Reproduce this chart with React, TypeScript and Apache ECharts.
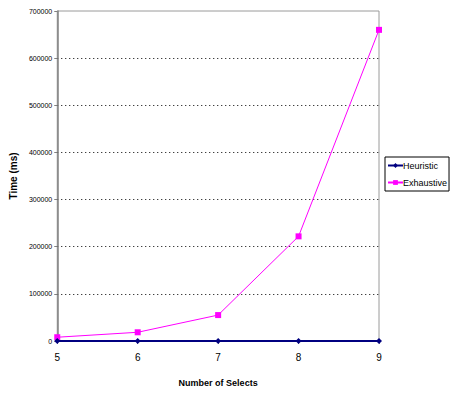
import React, { useEffect, useRef } from "react";
import * as echarts from "echarts";

const selects = [5, 6, 7, 8, 9];
const heuristicMs = [15, 20, 30, 40, 50];
const exhaustiveMs = [8000, 18500, 55000, 222000, 660000];
const yTicks = [0, 100000, 200000, 300000, 400000, 500000, 600000, 700000];

export default function App() {
  const ref = useRef<HTMLDivElement>(null);

  useEffect(() => {
    if (!ref.current) return;
    const chart = echarts.init(ref.current, undefined, { renderer: "svg" });
    chart.setOption({
      animation: false,
      backgroundColor: "#ffffff",
      textStyle: { fontFamily: "Liberation Sans, Arial, sans-serif" },
      grid: {
        left: 57,
        right: 73,
        top: 11,
        bottom: 52,
        show: true,
        borderColor: "#9a9a9a",
        borderWidth: 1,
      },
      legend: {
        orient: "vertical",
        left: 385,
        top: 157,
        padding: [4, 2, 4, 2],
        itemGap: 8,
        itemWidth: 15,
        itemHeight: 6,
        borderColor: "#000000",
        borderWidth: 1,
        borderRadius: 0,
        textStyle: {
          fontSize: 9,
          color: "#000",
          padding: [0, 0, 0, -5],
        },
        data: ["Heuristic", "Exhaustive"],
      },
      xAxis: {
        type: "value",
        min: 5,
        max: 9,
        interval: 1,
        name: "Number of Selects",
        nameLocation: "middle",
        nameGap: 37,
        nameTextStyle: { fontSize: 9, fontWeight: "bold", color: "#000" },
        axisLine: { show: true, lineStyle: { color: "#808080", width: 1 } },
        axisTick: { show: true, length: 3, lineStyle: { color: "#808080" } },
        axisLabel: { fontSize: 10, color: "#000", margin: 11 },
        splitLine: { show: false },
      },
      yAxis: {
        type: "value",
        min: 0,
        max: 700000,
        interval: 100000,
        name: "Time (ms)",
        nameLocation: "middle",
        nameGap: 35,
        nameTextStyle: { fontSize: 10, fontWeight: "bold", color: "#000" },
        axisLine: { show: true, lineStyle: { color: "#808080", width: 1.5 } },
        axisTick: { show: true, length: 3, lineStyle: { color: "#808080" } },
        axisLabel: {
          fontSize: 7,
          color: "#000",
          margin: 5,
          formatter: (v: number) => (yTicks.includes(v) ? String(v) : ""),
        },
        splitLine: {
          show: true,
          showMinLine: false,
          showMaxLine: false,
          lineStyle: { color: "#000", type: [1, 3], width: 1 },
        },
      },
      series: [
        {
          name: "Exhaustive",
          type: "line",
          data: selects.map((s, i) => [s, exhaustiveMs[i]]),
          symbol: "rect",
          symbolSize: 6,
          lineStyle: { color: "#ff00ff", width: 1 },
          itemStyle: { color: "#ff00ff" },
          z: 3,
        },
        {
          name: "Heuristic",
          type: "line",
          data: selects.map((s, i) => [s, heuristicMs[i]]),
          symbol: "diamond",
          symbolSize: 6,
          lineStyle: { color: "#000080", width: 2 },
          itemStyle: { color: "#000080" },
          z: 4,
        },
      ],
    });
    return () => chart.dispose();
  }, []);

  return (
    <div
      ref={ref}
      style={{ position: "fixed", left: 0, top: 0, width: 452, height: 393, overflow: "hidden" }}
    />
  );
}
